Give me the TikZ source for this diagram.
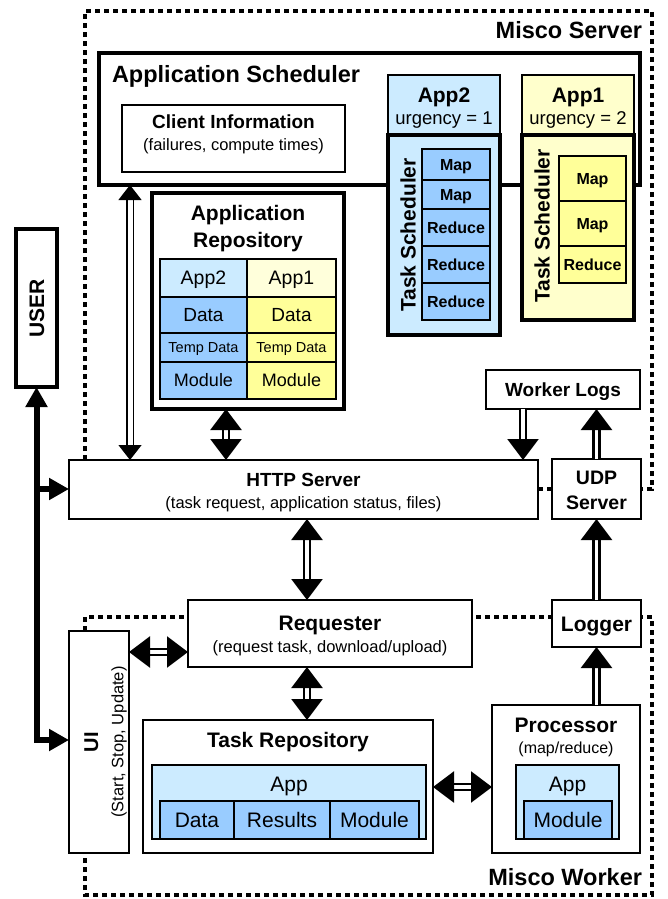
\documentclass[tikz,border=0pt]{standalone}
\usepackage{fontspec}
\setmainfont{Liberation Sans}
\usetikzlibrary{arrows.meta}

\definecolor{paleblue}{HTML}{CCEBFF}
\definecolor{midblue}{HTML}{99CCFF}
\definecolor{paleyel}{HTML}{FFFFCC}
\definecolor{midyel}{HTML}{FFFF99}

\newcommand\fsz[1]{\fontsize{#1}{#1}\selectfont}

% box with corners (x1,y1)-(x2,y2), optional single-line centred text of size #7
\newcommand\cbox[8]{%
  \pgfmathsetmacro\bxw{#5-#3}\pgfmathsetmacro\bxh{#6-#4}%
  \pgfmathsetmacro\bxx{(#3+#5)/2}\pgfmathsetmacro\bxy{(#4+#6)/2}%
  \pgfmathsetmacro\bxt{0.716*#7}%
  \node[inner sep=0pt, outer sep=0pt, minimum width=\bxw pt, minimum height=\bxh pt,
        font=\fsz{#7}, text height=\bxt pt, text depth=0pt, #1] (#2) at (\bxx,\bxy) {#8};}

% text line whose capitals are centred on (x,y)
\newcommand\lbl[6][]{%
  \pgfmathsetmacro\lby{#4+0.358*#5}%
  \node[inner sep=0pt, outer sep=0pt, anchor=base, font=\fsz{#5}, #1] (#2) at (#3,\lby) {#6};}
% same, reading upwards
\newcommand\rlbl[6][]{%
  \pgfmathsetmacro\lbx{#3+0.358*#5}%
  \node[inner sep=0pt, outer sep=0pt, anchor=base, rotate=90, font=\fsz{#5}, #1] (#2) at (\lbx,#4) {#6};}

\begin{document}
\begin{tikzpicture}[x=1pt, y=-1pt,
  bf/.style={execute at begin node=\bfseries},
  frame/.style={line width=4.5pt, dash pattern=on 5pt off 4pt},
  bx/.style={draw, fill=white, line width=2.5pt},
  slim/.style={draw, fill=white, line width=1.7pt},
  heavy/.style={draw, fill=white, line width=3.3pt},
  cell/.style={draw, line width=1.2pt},
  dbl/.style={line width=2.3pt, double distance=3.5pt, double=white},
  dblthin/.style={line width=1.2pt, double distance=5pt, double=white},
  one/.style={-{Triangle[width=31pt,length=21pt]}},
  two/.style={{Triangle[width=31pt,length=21pt]}-{Triangle[width=31pt,length=21pt]}},
  twothin/.style={{Triangle[width=23pt,length=15pt]}-{Triangle[width=23pt,length=15pt]}},
  userln/.style={line width=6pt},
  utip/.style={-{Triangle[width=21pt,length=20pt]}},
  utwo/.style={{Triangle[width=21pt,length=20pt]}-{Triangle[width=21pt,length=20pt]}}
]
\useasboundingbox (0,0) rectangle (667,899);
\fill[white] (0,0) rectangle (667,899);

% dotted outlines of the server and the worker
\draw[frame] (85,460) -- (85,11) -- (652,11) -- (652,489) -- (641,489);
\draw[frame] (538,489) -- (552,489);
\draw[frame] (85,631) -- (85,617) -- (652,617) -- (652,895) -- (85,895) -- (85,853);
\lbl[bf, anchor=base east]{tserver}{642}{30}{23.5}{Misco Server}
\lbl[bf, anchor=base east]{tworker}{642}{877}{23.5}{Misco Worker}

% application scheduler
\cbox{heavy}{sched}{99}{53}{640}{185}{10}{}
\lbl[bf, anchor=base west]{tsched}{112}{74}{23.5}{Application Scheduler}
\cbox{slim}{client}{122}{105}{345}{172}{10}{}
\lbl[bf]{tclient}{233.5}{122}{19}{Client Information}
\lbl{tclientsub}{233.5}{145}{16.5}{(failures, compute times)}

% App2 with its task scheduler
\cbox{slim, fill=paleblue}{apptwo}{388}{75}{500}{135}{10}{}
\lbl[bf]{tapptwo}{444}{95}{21}{App2}
\lbl{turgtwo}{444}{118}{18.5}{urgency = 1}
\cbox{heavy, fill=paleblue}{tstwo}{388}{135}{500}{335}{10}{}
\rlbl[bf]{ttstwo}{408}{235}{21}{Task Scheduler}
\cbox{cell, fill=midblue, bf}{atm1}{422}{149}{490}{180}{16}{Map}
\cbox{cell, fill=midblue, bf}{atm2}{422}{180}{490}{209}{16}{Map}
\cbox{cell, fill=midblue, bf}{atr1}{422}{209}{490}{246}{16}{Reduce}
\cbox{cell, fill=midblue, bf}{atr2}{422}{246}{490}{283}{16}{Reduce}
\cbox{cell, fill=midblue, bf}{atr3}{422}{283}{490}{320}{16}{Reduce}

% App1 with its task scheduler
\cbox{slim, fill=paleyel}{appone}{522}{75}{634}{135}{10}{}
\lbl[bf]{tappone}{578}{95}{21}{App1}
\lbl{turgone}{578}{118}{18.5}{urgency = 2}
\cbox{heavy, fill=paleyel}{tsone}{522}{135}{634}{320}{10}{}
\rlbl[bf]{ttsone}{542}{226}{21}{Task Scheduler}
\cbox{cell, fill=midyel, bf}{aom1}{559}{156}{626}{201}{16}{Map}
\cbox{cell, fill=midyel, bf}{aom2}{559}{201}{626}{246}{16}{Map}
\cbox{cell, fill=midyel, bf}{aor1}{559}{246}{626}{283}{16}{Reduce}

% application repository
\cbox{heavy}{repo}{152}{193}{344}{409}{10}{}
\lbl[bf]{trepoa}{248}{213}{21}{Application}
\lbl[bf]{trepob}{248}{240}{21}{Repository}
\cbox{cell, fill=paleblue}{rtwo}{160}{259}{247}{297}{19.5}{App2}
\cbox{cell, fill=paleyel!70}{rone}{247}{259}{336}{297}{19.5}{App1}
\cbox{cell, fill=midblue}{rdtwo}{160}{297}{247}{333}{19}{Data}
\cbox{cell, fill=midyel}{rdone}{247}{297}{336}{333}{19}{Data}
\cbox{cell, fill=midblue}{rttwo}{160}{333}{247}{362}{14.5}{Temp Data}
\cbox{cell, fill=midyel}{rtone}{247}{333}{336}{362}{14.5}{Temp Data}
\cbox{cell, fill=midblue}{rmtwo}{160}{362}{247}{399}{18}{Module}
\cbox{cell, fill=midyel}{rmone}{247}{362}{336}{399}{18}{Module}

% server front ends
\cbox{bx, bf}{logs}{486}{370}{640}{409}{19}{Worker Logs}
\cbox{bx}{http}{69}{460}{538}{519}{10}{}
\lbl[bf]{thttp}{303.5}{480}{19}{HTTP Server}
\lbl{thttpsub}{303.5}{503}{16.5}{(task request, application status, files)}
\cbox{bx}{udp}{552}{459}{641}{519}{10}{}
\lbl[bf]{tudpa}{596.5}{478}{19.5}{UDP}
\lbl[bf]{tudpb}{596.5}{503}{19.5}{Server}

% user
\cbox{draw, fill=white, line width=4.5pt}{user}{16}{229}{57}{387}{10}{}
\rlbl[bf]{tuser}{36.5}{308}{21}{USER}

% worker
\cbox{bx}{req}{188}{600}{472}{667}{10}{}
\lbl[bf]{treq}{330}{623}{21}{Requester}
\lbl{treqsub}{330}{647}{16.5}{(request task, download/upload)}
\cbox{bx, bf}{logger}{552}{600}{641}{647}{21}{Logger}
\cbox{bx}{ui}{69}{631}{129}{853}{10}{}
\rlbl[bf]{tui}{91}{742}{20}{UI}
\rlbl{tuisub}{117.5}{742}{16.5}{(Start, Stop, Update)}
\cbox{bx}{trepo}{143}{720}{433}{853}{10}{}
\lbl[bf]{ttrepo}{288}{740}{21}{Task Repository}
\cbox{cell, fill=paleblue}{tapp}{152}{765}{426}{839}{10}{}
\lbl{ttapp}{289}{784}{21}{App}
\cbox{cell, fill=midblue}{tdata}{160}{801}{234}{839}{21}{Data}
\cbox{cell, fill=midblue}{tres}{234}{801}{330}{839}{21}{Results}
\cbox{cell, fill=midblue}{tmod}{330}{801}{419}{839}{21}{Module}
\cbox{bx}{proc}{492}{705}{640}{853}{10}{}
\lbl[bf]{tproc}{566}{725}{21}{Processor}
\lbl{tprocsub}{566}{748}{16}{(map/reduce)}
\cbox{cell, fill=paleblue}{papp}{516}{765}{619}{839}{10}{}
\lbl{tpapp}{567.5}{784}{21}{App}
\cbox{cell, fill=midblue}{pmod}{524}{801}{612}{839}{21}{Module}

% connectors
\draw[dblthin, twothin] ([xshift=31pt]sched.south west) -- ([xshift=31pt]sched.south west |- http.north);
\draw[dbl, two] ([xshift=74pt]repo.south west) -- ([xshift=74pt]repo.south west |- http.north);
\draw[dbl, one] ([xshift=37pt]logs.south west) -- ([xshift=37pt]logs.south west |- http.north);
\draw[dbl, one] (udp.north) -- (udp.north |- logs.south);
\draw[dbl, two] ([xshift=119pt]req.north west |- http.south) -- ([xshift=119pt]req.north west);
\draw[dbl, one] (logger.north) -- (udp.south);
\draw[dbl, one] (logger.south |- proc.north) -- (logger.south);
\draw[dbl, two] ([yshift=-18.5pt]req.west -| ui.east) -- ([yshift=-18.5pt]req.west);
\draw[dbl, two] ([xshift=119pt]req.south west) -- ([xshift=119pt]req.south west |- trepo.north);
\draw[dbl, two] ([yshift=-0.5pt]trepo.east) -- ([yshift=-0.5pt]trepo.east -| proc.west);

\coordinate (ucorner) at (36.5,740);
\coordinate (ubranch) at (36.5,489);
\draw[userln, utwo] (user.south) -- (ucorner) -- (ucorner -| ui.west);
\draw[userln, utip] (ubranch) -- (ubranch -| http.west);
\end{tikzpicture}
\end{document}
